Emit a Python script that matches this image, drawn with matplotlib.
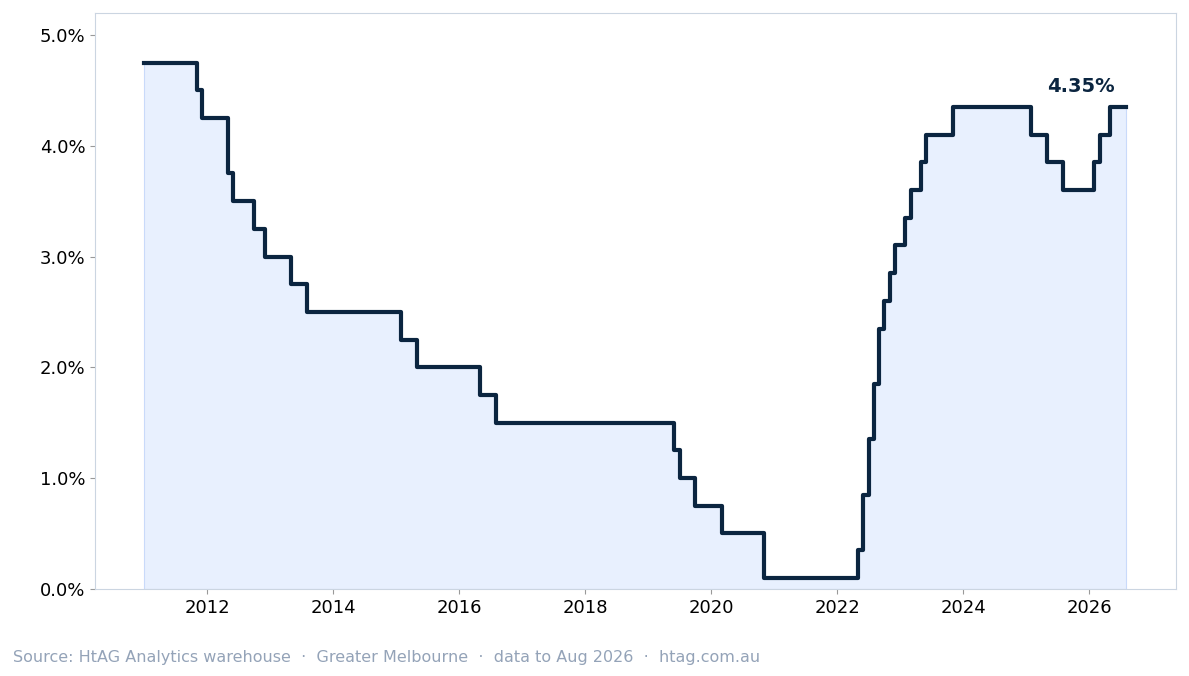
import matplotlib
matplotlib.use("Agg")
import matplotlib.pyplot as plt

# change dates (year, month) and cash rate (%)
years  = [2011,2011,2011,2012,2012,2012,2012,2013,2013,2015,2015,2016,2016,2019,2019,2019,2020,2020,
          2022,2022,2022,2022,2022,2022,2022,2022,2023,2023,2023,2023,2023,2025,2025,2025,2026,2026,2026]
months = [1,11,12,5,6,10,12,5,8,2,5,5,8,6,7,10,3,11,
          5,6,7,8,9,10,11,12,2,3,5,6,11,2,5,8,2,3,5]
rates  = [4.75,4.50,4.25,3.75,3.50,3.25,3.00,2.75,2.50,2.25,2.00,1.75,1.50,1.25,1.00,0.75,0.50,0.10,
          0.35,0.85,1.35,1.85,2.35,2.60,2.85,3.10,3.35,3.60,3.85,4.10,4.35,4.10,3.85,3.60,3.85,4.10,4.35]
end_year, end_month = 2026, 8

x = [y + (m - 1) / 12 for y, m in zip(years, months)]
x.append(end_year + (end_month - 1) / 12)
r = rates + [rates[-1]]

fig = plt.figure(figsize=(11.89, 6.76), dpi=100)
ax = fig.add_axes([0.080, 0.129, 0.909, 0.852])
ax.fill_between(x, r, step="post", color="#e8f0fe", edgecolor="#c9dafa", linewidth=0.8)
ax.step(x, r, where="post", color="#0b2540", linewidth=3)
ax.annotate(f"{rates[-1]:.2f}%", (x[-1], r[-1]), xytext=(-8, 8), textcoords="offset points",
            ha="right", va="bottom", fontsize=14, fontweight="bold", color="#0b2540")

ax.set_xlim(2010.22, 2027.38)
ax.set_ylim(0, 5.2)
ax.set_xticks(range(2012, 2027, 2))
ax.set_yticks([0, 1, 2, 3, 4, 5])
ax.set_yticklabels([f"{v:.1f}%" for v in range(6)])
ax.tick_params(labelsize=13, color="#999999")
for s in ax.spines.values():
    s.set_color("#cbd5e1")
fig.text(0.011, 0.02, "Source: HtAG Analytics warehouse  ·  Greater Melbourne  ·  data to Aug 2026  ·  htag.com.au",
         fontsize=11.5, color="#94a3b8")
fig.savefig("out.png", dpi=100)
